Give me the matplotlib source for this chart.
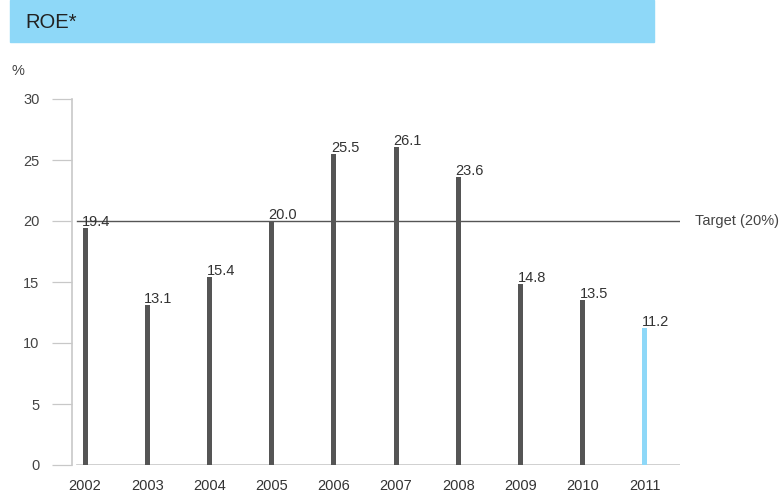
import matplotlib.pyplot as plt
from matplotlib.patches import Rectangle
from matplotlib.transforms import offset_copy

years = ['2002', '2003', '2004', '2005', '2006', '2007', '2008', '2009', '2010', '2011']
roe = [19.4, 13.1, 15.4, 20.0, 25.5, 26.1, 23.6, 14.8, 13.5, 11.2]
target = 20.0
yticks = [0, 5, 10, 15, 20, 25, 30]

dark = '#555555'
blue = '#8ed8f8'
grey = '#c8c8c8'
text_col = '#444444'

plt.rcParams['font.family'] = ['Liberation Sans', 'DejaVu Sans']

W, H = 784, 494
fig = plt.figure(figsize=(W / 100, H / 100), dpi=100)

# header band
fig.patches.append(Rectangle((10 / W, 1 - 42 / H), 644 / W, 42 / H,
                             transform=fig.transFigure, color=blue, zorder=0))
fig.text(25 / W, 1 - 22 / H, 'ROE*', fontsize=14.5, color='#222222', va='center', ha='left')
fig.text(12 / W, 1 - 71 / H, '%', fontsize=10.5, color=text_col, va='center', ha='left')

left, right, top, bottom = 72, 680, 99, 465
ax = fig.add_axes([left / W, 1 - bottom / H, (right - left) / W, (bottom - top) / H])

step = 62.2
x = list(range(len(years)))
ax.set_xlim((left - 85) / step, (right - 85) / step)
ax.set_ylim(0, 30)

colors = [dark] * (len(years) - 1) + [blue]
ax.bar(x, roe, width=5 / step, color=colors, zorder=3)

lbl_tr = offset_copy(ax.transData, fig=fig, x=-3, y=-1, units='dots')
for xi, v in zip(x, roe):
    ax.text(xi, v, f'{v:.1f}', transform=lbl_tr, ha='left', va='bottom',
            fontsize=10.5, color='#333333', zorder=4)

# target line and baseline start a little right of the spine
gap = 5 / (right - left)
ax.axhline(target, xmin=gap, xmax=1, color=dark, lw=1, zorder=2)
ax.axhline(0, xmin=gap, xmax=1, color=grey, lw=1.2, zorder=2)
ax.text(695 / W, 1 - 221 / H, f'Target ({target:.0f}%)', transform=fig.transFigure,
        fontsize=10.5, color=text_col, va='center', ha='left')

for s in ['top', 'right', 'bottom']:
    ax.spines[s].set_visible(False)
ax.spines['left'].set_color(grey)
ax.spines['left'].set_linewidth(1.2)

ax.set_yticks(yticks)
ax.tick_params(axis='y', length=14.5, width=0.9, color=grey, labelcolor=text_col,
               labelsize=10.5, pad=9)
ax.set_xticks(x)
ax.set_xticklabels(years)
ax.tick_params(axis='x', length=0, labelcolor='#333333', labelsize=10.5, pad=10)

fig.savefig('out.png', dpi=100)
